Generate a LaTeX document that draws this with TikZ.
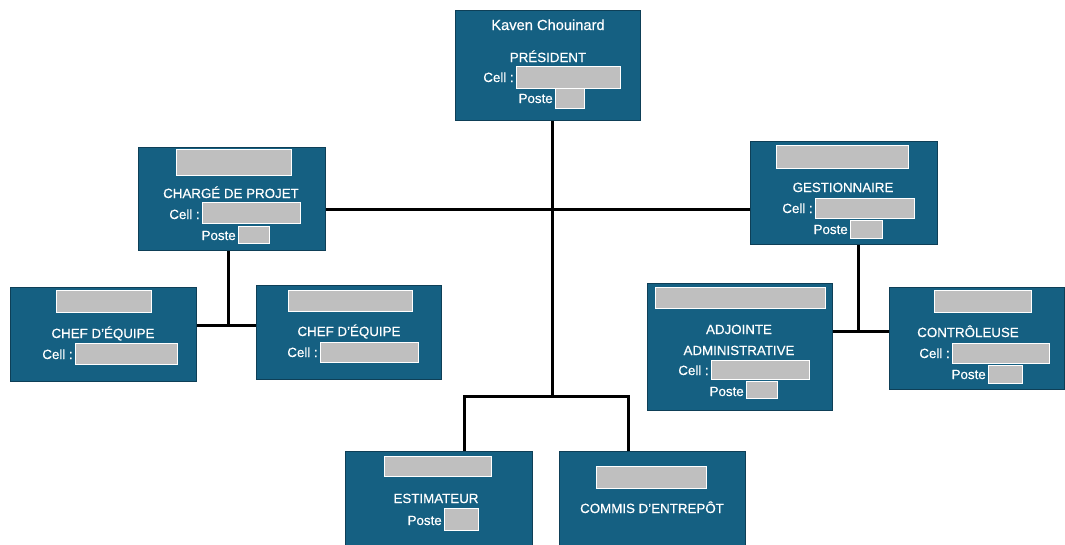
\documentclass[tikz,border=0pt]{standalone}
\usepackage{fontspec}
\setmainfont{Liberation Sans}
\newfontfamily\lblfont{Liberation Sans}[FakeBold=0.5]
\usetikzlibrary{backgrounds}
\definecolor{boxblue}{HTML}{156082}
\definecolor{boxline}{HTML}{0E3F57}
\definecolor{hidegrey}{RGB}{191,191,191}

\begin{document}
\begin{tikzpicture}[
  x=0.75pt, y=-0.75pt,
  box/.style={draw=boxline, fill=boxblue, line width=0.6pt, inner sep=0},
  redact/.style={draw=white, fill=hidegrey, line width=0.4pt, inner sep=0, anchor=north west},
  lbl/.style={text=white, inner sep=0, anchor=base, font=\lblfont\fontsize{10}{12}\selectfont},
  key/.style={lbl, anchor=base east},
  wire/.style={line width=2.25pt},
]
\clip (0,0) rectangle (1065,544);
\useasboundingbox (0,0) rectangle (1065,544);

% boxes
\node[box, minimum width=138.75pt, minimum height=82.5pt] (pres) at (547.5,65) {};
\node[box, minimum width=140.25pt, minimum height=77.25pt] (charge) at (231.5,198.5) {};
\node[box, minimum width=140.25pt, minimum height=77.25pt] (gest) at (843.5,192.5) {};
\node[box, minimum width=139.5pt, minimum height=70.5pt] (chefa) at (103,334) {};
\node[box, minimum width=138.75pt, minimum height=70.5pt] (chefb) at (348.5,332) {};
\node[box, minimum width=138.75pt, minimum height=95.25pt] (adj) at (739.5,346.5) {};
\node[box, minimum width=131.25pt, minimum height=76.5pt] (ctrl) at (976.5,338) {};
\node[box, minimum width=140.25pt, minimum height=78.75pt] (estim) at (438.5,503.5) {};
\node[box, minimum width=139.5pt, minimum height=78.75pt] (commis) at (652,503.5) {};

% president
\node[lbl, font=\lblfont\fontsize{11}{13}\selectfont] (presname) at (548,30) {Kaven Chouinard};
\node[lbl] (prestitle) at (548,62) {PRÉSIDENT};
\node[key] (prescell) at (514,82) {Cell :};
\node[redact, minimum width=78pt, minimum height=16.5pt] (prescellh) at (516,66) {};
\node[key] (presposte) at (553,103) {Poste};
\node[redact, minimum width=21.75pt, minimum height=15pt] (prespo) at (555,88) {};

% charge de projet
\node[redact, minimum width=86.25pt, minimum height=19.5pt] (chargename) at (176,149) {};
\node[lbl] (chargetitle) at (231,198) {CHARGÉ DE PROJET};
\node[key] (chargecell) at (200,219) {Cell :};
\node[redact, minimum width=73.5pt, minimum height=15.75pt] (chargecellh) at (202,202) {};
\node[key] (chargeposte) at (236,240) {Poste};
\node[redact, minimum width=23.25pt, minimum height=12.75pt] (chargepo) at (238,226) {};

% gestionnaire
\node[redact, minimum width=99pt, minimum height=17.25pt] (gestname) at (776,145) {};
\node[lbl] (gesttitle) at (843,192) {GESTIONNAIRE};
\node[key] (gestcell) at (813,213) {Cell :};
\node[redact, minimum width=74.25pt, minimum height=15pt] (gestcellh) at (815,198) {};
\node[key] (gestposte) at (848,234) {Poste};
\node[redact, minimum width=24pt, minimum height=13.5pt] (gestpo) at (850,220) {};

% chefs d'equipe
\node[redact, minimum width=71.25pt, minimum height=16.5pt] (chefaname) at (56,290) {};
\node[lbl] (chefatitle) at (103,338) {CHEF D’ÉQUIPE};
\node[key] (chefacell) at (73,359) {Cell :};
\node[redact, minimum width=76.5pt, minimum height=15.75pt] (chefacellh) at (75,343) {};
\node[redact, minimum width=93pt, minimum height=15.75pt] (chefbname) at (288,290) {};
\node[lbl] (chefbtitle) at (349,336) {CHEF D’ÉQUIPE};
\node[key] (chefbcell) at (318,357) {Cell :};
\node[redact, minimum width=73.5pt, minimum height=15pt] (chefbcellh) at (320,342) {};

% adjointe
\node[redact, minimum width=127.5pt, minimum height=15.75pt] (adjname) at (655,287) {};
\node[lbl] (adjtitle) at (739,334) {ADJOINTE};
\node[lbl] (adjtitleb) at (739,355) {ADMINISTRATIVE};
\node[key] (adjcell) at (709,375) {Cell :};
\node[redact, minimum width=73.5pt, minimum height=14.25pt] (adjcellh) at (711,360) {};
\node[key] (adjposte) at (744,396) {Poste};
\node[redact, minimum width=23.25pt, minimum height=12.75pt] (adjpo) at (746,381) {};

% controleuse
\node[redact, minimum width=72.75pt, minimum height=16.5pt] (ctrlname) at (934,290) {};
\node[lbl] (ctrltitle) at (968,337) {CONTRÔLEUSE};
\node[key] (ctrlcell) at (950,358) {Cell :};
\node[redact, minimum width=72.75pt, minimum height=15pt] (ctrlcellh) at (952,343) {};
\node[key] (ctrlposte) at (986,379) {Poste};
\node[redact, minimum width=25.5pt, minimum height=13.5pt] (ctrlpo) at (988,365) {};

% estimateur, commis
\node[redact, minimum width=80.25pt, minimum height=15pt] (estimname) at (384,456) {};
\node[lbl] (estimtitle) at (436,503) {ESTIMATEUR};
\node[key] (estimposte) at (442,525) {Poste};
\node[redact, minimum width=25.5pt, minimum height=16.5pt] (estimpo) at (444,508) {};
\node[redact, minimum width=82.5pt, minimum height=16.5pt] (commisname) at (596,466) {};
\node[lbl] (commistitle) at (652,513) {COMMIS D’ENTREPÔT};

% connectors
\coordinate (jt) at (552,209);
\coordinate (jb) at (552,396);
\coordinate (jc) at (228,325);
\coordinate (jg) at (858,331);
\coordinate (je) at (464,396);
\coordinate (jm) at (628,396);
\begin{scope}[on background layer]
\draw[wire] (jt |- pres.south) -- (jb);
\draw[wire] (charge.east |- jt) -- (gest.west |- jt);
\draw[wire] (jc |- charge.south) -- (jc);
\draw[wire] (chefa.east |- jc) -- (chefb.west |- jc);
\draw[wire] (jg |- gest.south) -- (jg);
\draw[wire] (adj.east |- jg) -- (ctrl.west |- jg);
\draw[wire] (je |- estim.north) -- (je) -- (jm) -- (jm |- commis.north);
\end{scope}
\end{tikzpicture}
\end{document}
